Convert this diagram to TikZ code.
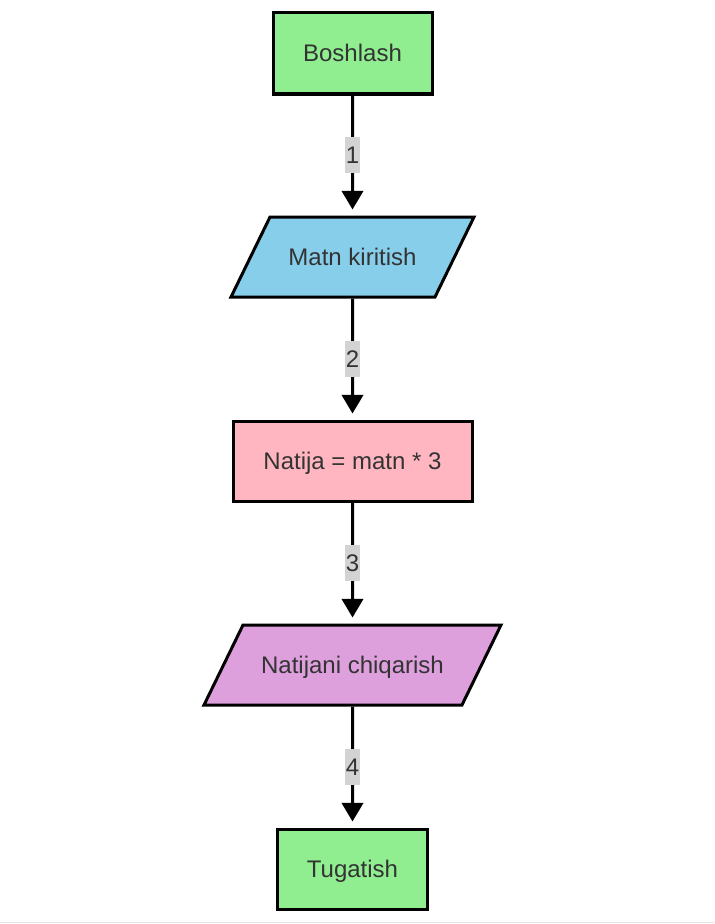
\documentclass[tikz,border=0pt]{standalone}
\usepackage{fontspec}
\setmainfont{Liberation Sans}
\usepackage{tikz}
\usetikzlibrary{shapes.geometric,arrows.meta,positioning}
\definecolor{yashil}{HTML}{90EE90}
\definecolor{havorang}{HTML}{87CEEB}
\definecolor{pushti}{HTML}{FFB6C1}
\definecolor{binafsha}{HTML}{DDA0DD}
\definecolor{kulrang}{HTML}{D3D3D3}
\definecolor{matnrang}{HTML}{333333}
\tikzstyle{blok}=[draw=black, line width=2.25pt, text=matnrang, font=\fontsize{18}{22}\selectfont, text height=14.5pt, text depth=2.5pt, inner xsep=0pt, inner ysep=21.5pt]
\tikzstyle{jarayon}=[blok, rectangle, minimum height=60pt]
\tikzstyle{kirish}=[blok, trapezium, trapezium left angle=64, trapezium right angle=116, trapezium stretches body]
\tikzstyle{oqim}=[line width=2.25pt, -{Triangle[width=16pt,length=14pt]}, shorten >=4.5pt]
\tikzstyle{raqam}=[fill=kulrang, text=matnrang, inner xsep=0.6pt, inner ysep=0pt, minimum height=27pt, font=\fontsize{18}{22}\selectfont]
\begin{document}
\begin{tikzpicture}[x=0.75pt, y=-0.75pt]

\useasboundingbox (0,0) rectangle (714,924);
\draw[kulrang!60, line width=0.75pt] (0,922) -- (714,922);

% bloklar
\node[jarayon, fill=yashil, minimum width=119.25pt, minimum height=60.75pt] (boshlash) at (352.5,53.5) {Boshlash};
\node[kirish, fill=havorang, minimum width=182.25pt] (kiritish) at (352.5,257) {Matn kiritish};
\node[jarayon, fill=pushti, minimum width=179.25pt] (hisob) at (352.5,461) {Natija = matn * 3};
\node[kirish, fill=binafsha, minimum width=222.75pt] (chiqarish) at (352.5,665) {Natijani chiqarish};
\node[jarayon, fill=yashil, minimum width=112.5pt] (tugatish) at (352.5,869) {Tugatish};

% oqimlar
\draw[oqim] (boshlash.south) -- node[raqam]{1} (kiritish.north);
\draw[oqim] (kiritish.south) -- node[raqam]{2} (hisob.north);
\draw[oqim] (hisob.south) -- node[raqam]{3} (chiqarish.north);
\draw[oqim] (chiqarish.south) -- node[raqam]{4} (tugatish.north);

\end{tikzpicture}
\end{document}
